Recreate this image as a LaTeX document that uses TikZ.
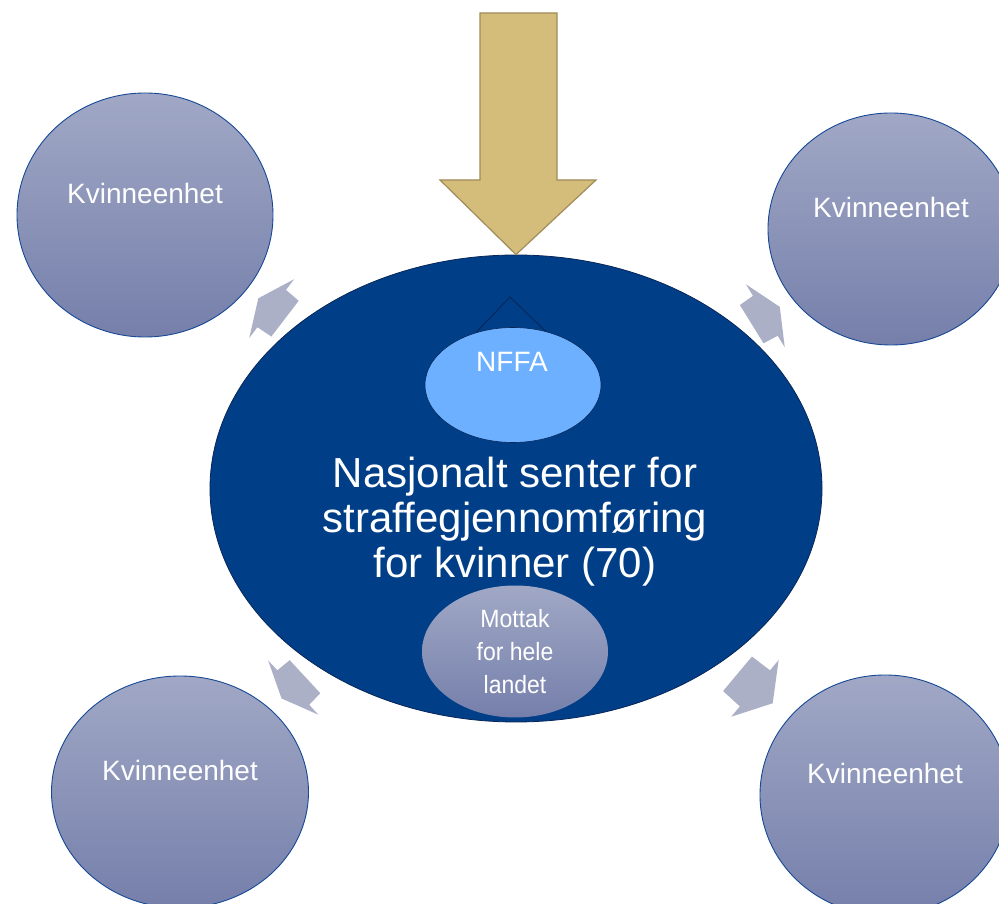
\documentclass[tikz,border=0pt]{standalone}
\usepackage{fontspec}
\setmainfont{Liberation Sans}
\newfontfamily\narrowsans[FakeStretch=0.92]{Liberation Sans}
\usepackage{xcolor}
\usetikzlibrary{shapes.geometric}
\definecolor{navy2}{RGB}{0,63,135}
\definecolor{navyline}{RGB}{8,38,88}
\definecolor{sky2}{RGB}{108,176,255}
\definecolor{unittop}{RGB}{161,168,198}
\definecolor{unitbot}{RGB}{117,127,170}
\definecolor{unitline}{RGB}{22,72,150}
\definecolor{grayarrow}{RGB}{172,176,198}
\definecolor{gold2}{RGB}{212,188,122}
\definecolor{goldline}{RGB}{160,140,90}
\tikzset{
unit/.style={
	ellipse, draw=unitline, line width=0.9pt,
	top color=unittop, bottom color=unitbot,
	inner sep=0pt,
	label={[unittext]center:#1}
},
unittext/.style={white, yshift=22pt, font=\fontsize{28}{32}\selectfont},
centre/.style={ellipse, fill=navy2, draw=navyline, line width=0.8pt, inner sep=0pt},
sub/.style={ellipse, inner sep=0pt},
bigarrow/.style={fill=gold2, draw=goldline, line width=1.2pt, line join=miter},
}
\begin{document}
\begin{tikzpicture}[x=1pt, y=1pt]
\tikzstyle{smallarrow}=[fill=grayarrow, draw=none]
\useasboundingbox (0,0) rectangle (999,903);
%Place the nodes
\node[unit={Kvinneenhet}, minimum width=256pt, minimum height=244pt] (tl) at (145,688) {};
\node[unit={Kvinneenhet}, minimum width=246pt, minimum height=232pt] (tr) at (891,674) {};
\node[unit={Kvinneenhet}, minimum width=257pt, minimum height=232pt] (bl) at (180,111) {};
\node[unit={Kvinneenhet}, minimum width=250pt, minimum height=240pt] (br) at (885,108) {};

%small arrows between centre and units
\foreach \px/\py/\ang/\sh/\hd in {285/584.3/142.6/16.7/16.9, 751.7/578.8/31.7/16/17,
	305/226.3/222.8/16/16, 737.5/229.2/320.1/22.7/23.2} {
	\fill[smallarrow, shift={(\px,\py)}, rotate=\ang]
		(0,-22.5) -- (\sh,-23.5) -- (\sh,-37) -- (\sh+\hd,0) -- (\sh,37) -- (\sh,23.5) -- (0,22.5) -- cycle;
}

%
\node[centre, minimum width=612pt, minimum height=467pt] (main) at (516,414.5) {};
\draw[navyline, line width=0.9pt] (466,560) -- (510,606) -- (558,560);
\node[sub, fill=sky2, draw=navyline, line width=0.6pt, minimum width=176pt, minimum height=115pt] (nffa) at (513,518) {};
\node[white, font=\fontsize{28}{32}\selectfont] (nffatext) at (512,541) {NFFA};

\node[white, align=center, font=\fontsize{42}{45}\selectfont] (title) at (515,381)
	{Nasjonalt senter for\\straffegjennomføring\\for kvinner (70)};

\node[sub, top color=unittop, bottom color=unitbot, minimum width=186pt, minimum height=132pt] (mottak) at (515,251.5) {};
\node[white, align=center, font=\narrowsans\fontsize{25}{33}\selectfont] (mottaktext) at (515,251)
	{Mottak\\for hele\\landet};

%
\draw[bigarrow] (main.north) -- (440,723) -- (480,723) -- (480,890) -- (557,890) -- (557,723) -- (596,723) -- cycle;

\end{tikzpicture}
\end{document}
